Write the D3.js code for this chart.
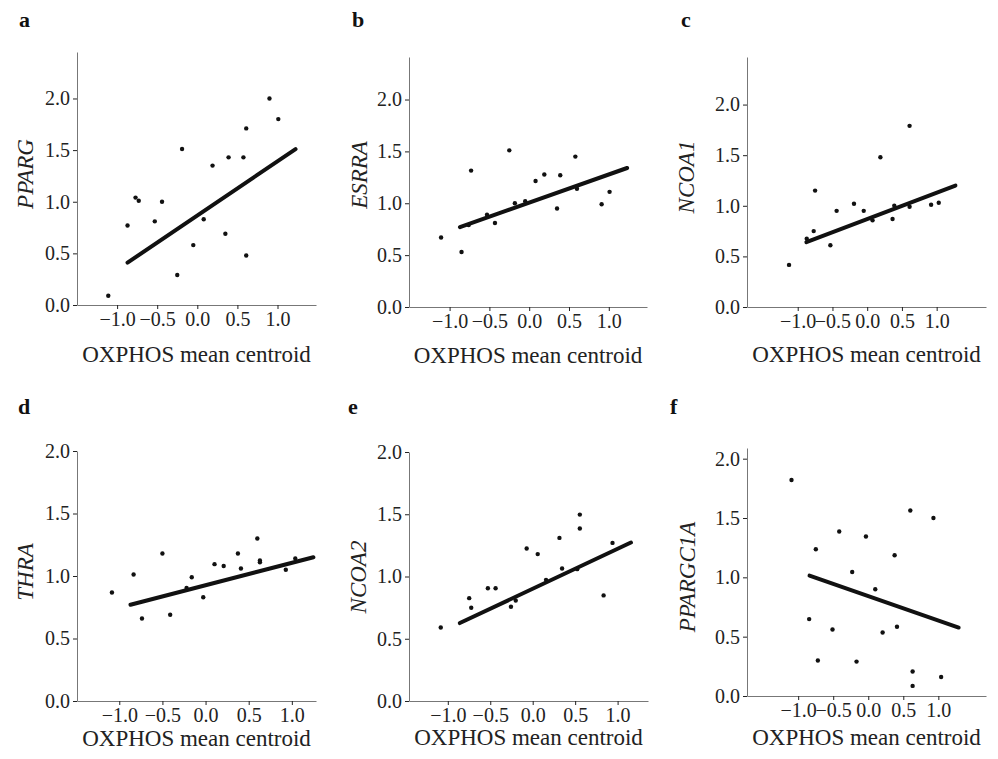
<!DOCTYPE html>
<html>
<head>
<meta charset="utf-8">
<script src="https://cdn.jsdelivr.net/npm/d3@7"></script>
<style>
  body { margin: 0; background: #fff; }
  svg { display: block; }
  svg text { font-family: "Liberation Serif", "Times New Roman", Times, "DejaVu Serif", serif; }
  .tick text { font-size: 20px; fill: #222; }
  .domain, .tick line { stroke: #777; }
</style>
</head>
<body>
<svg id="fig" width="998" height="759"></svg>
<script>
var panelLetters = ['a', 'b', 'c', 'd', 'e', 'f'];
var genes = ['PPARG', 'ESRRA', 'NCOA1', 'THRA', 'NCOA2', 'PPARGC1A'];

var xTicks = [-1.0, -0.5, 0.0, 0.5, 1.0];
var yTicks = [0.0, 0.5, 1.0, 1.5, 2.0];

// OXPHOS centroid (x) and expression (y)
var ppargX = [-1.11, -0.87, -0.77, -0.73, -0.53, -0.44, -0.25, -0.19, -0.05, 0.08, 0.19, 0.35, 0.39, 0.575, 0.61, 0.61, 0.90, 1.01];
var ppargY = [0.09, 0.77, 1.04, 1.01, 0.81, 1.00, 0.29, 1.51, 0.58, 0.83, 1.35, 0.69, 1.43, 1.43, 1.71, 0.48, 2.00, 1.80];

var esrraX = [-1.107, -0.85, -0.73, -0.76, -0.53, -0.43, -0.25, -0.18, -0.05, 0.08, 0.19, 0.35, 0.39, 0.58, 0.60, 0.91, 1.01];
var esrraY = [0.67, 0.53, 1.315, 0.79, 0.89, 0.81, 1.51, 1.00, 1.02, 1.215, 1.277, 0.95, 1.27, 1.45, 1.14, 0.99, 1.11];

var ncoa1X = [-1.125, -0.87, -0.77, -0.75, -0.53, -0.44, -0.19, -0.05, 0.077, 0.19, 0.365, 0.39, 0.61, 0.61, 0.92, 1.03];
var ncoa1Y = [0.416, 0.675, 0.75, 1.15, 0.61, 0.95, 1.02, 0.95, 0.856, 1.48, 0.87, 1.00, 1.79, 0.99, 1.01, 1.03];

var thraX = [-1.085, -0.834, -0.737, -0.50, -0.41, -0.22, -0.16, -0.027, 0.104, 0.21, 0.375, 0.41, 0.60, 0.63, 0.63, 0.93, 1.04];
var thraY = [0.868, 1.012, 0.66, 1.18, 0.69, 0.905, 0.99, 0.83, 1.095, 1.08, 1.18, 1.06, 1.30, 1.125, 1.11, 1.05, 1.14];

var ncoa2X = [-1.083, -0.748, -0.724, -0.528, -0.437, -0.256, -0.20, -0.071, 0.059, 0.157, 0.315, 0.346, 0.524, 0.555, 0.555, 0.835, 0.94];
var ncoa2Y = [0.59, 0.826, 0.749, 0.906, 0.906, 0.757, 0.807, 1.225, 1.18, 0.973, 1.31, 1.064, 1.059, 1.497, 1.385, 0.848, 1.27];

var ppargc1aX = [-1.095, -0.843, -0.748, -0.719, -0.51, -0.414, -0.229, -0.167, -0.033, 0.10, 0.205, 0.376, 0.41, 0.60, 0.633, 0.633, 0.93, 1.04];
var ppargc1aY = [1.82, 0.648, 1.237, 0.299, 0.56, 1.386, 1.045, 0.29, 1.344, 0.90, 0.535, 1.186, 0.583, 1.563, 0.206, 0.085, 1.50, 0.16];

// regression line ends [x0, y0, x1, y1]
var fitLines = [
    [-0.87, 0.41, 1.225, 1.51],
    [-0.87, 0.77, 1.23, 1.34],
    [-0.875, 0.64, 1.27, 1.20],
    [-0.87, 0.77, 1.25, 1.15],
    [-0.858, 0.626, 1.157, 1.273],
    [-0.838, 1.014, 1.29, 0.577]
];

var xSeries = [ppargX, esrraX, ncoa1X, thraX, ncoa2X, ppargc1aX];
var ySeries = [ppargY, esrraY, ncoa1Y, thraY, ncoa2Y, ppargc1aY];

// plot boxes in page pixels, and the scale extents of each panel
var layout = [
    { l: 77, r: 316, t: 52, b: 305, xd: [-1.5, 1.48], yd: [0, 2.45], lx: 25, ly: 174, px: 19, py: 27, ty: 362 },
    { l: 409, r: 647, t: 57, b: 307, xd: [-1.51, 1.48], yd: [0, 2.41], lx: 359, ly: 175, px: 352, py: 27, ty: 363 },
    { l: 747, r: 986, t: 57, b: 307, xd: [-1.73, 1.71], yd: [0, 2.47], lx: 686, ly: 177, px: 681, py: 27, ty: 362 },
    { l: 77, r: 316, t: 451, b: 701, xd: [-1.49, 1.28], yd: [0, 2.0], lx: 25, ly: 572, px: 18, py: 414, ty: 746 },
    { l: 409, r: 648, t: 452, b: 701, xd: [-1.457, 1.358], yd: [0, 2.0], lx: 358, ly: 577, px: 348, py: 414, ty: 745 },
    { l: 747, r: 986, t: 448, b: 696, xd: [-1.73, 1.68], yd: [0, 2.09], lx: 687, ly: 577, px: 670, py: 414, ty: 745 }
];

var svg = d3.select('#fig');
var fmt = d3.format('.1f');

layout.forEach(function(p, i) {

    var x = d3.scaleLinear().domain(p.xd).range([p.l, p.r]);
    var y = d3.scaleLinear().domain(p.yd).range([p.b, p.t]);
    var g = svg.append('g');

    g.append('g')
        .attr('transform', 'translate(0,' + p.b + ')')
        .call(d3.axisBottom(x).tickValues(xTicks).tickFormat(fmt).tickSize(4).tickSizeOuter(0).tickPadding(3));

    g.append('g')
        .attr('transform', 'translate(' + p.l + ',0)')
        .call(d3.axisLeft(y).tickValues(yTicks).tickFormat(fmt).tickSize(4).tickSizeOuter(0).tickPadding(3));

    g.selectAll('g.tick text').attr('font-family', null);
    g.selectAll('.tick line').style('stroke', '#222');

    var pts = d3.zip(xSeries[i], ySeries[i]);
    g.selectAll('circle')
        .data(pts)
        .enter()
        .append('circle')
        .attr('cx', function(d) { return x(d[0]); })
        .attr('cy', function(d) { return y(d[1]); })
        .attr('r', 2.2)
        .attr('fill', '#111');

    var f = fitLines[i];
    g.append('line')
        .attr('x1', x(f[0])).attr('y1', y(f[1]))
        .attr('x2', x(f[2])).attr('y2', y(f[3]))
        .attr('stroke', '#111')
        .attr('stroke-width', 4)
        .attr('stroke-linecap', 'round');

    g.append('text')
        .attr('x', p.px).attr('y', p.py)
        .style('font-weight', 'bold')
        .style('font-size', '22px')
        .attr('fill', '#111')
        .text(panelLetters[i]);

    g.append('text')
        .attr('transform', 'translate(' + p.lx + ',' + p.ly + ') rotate(-90)')
        .attr('text-anchor', 'middle')
        .attr('dominant-baseline', 'central')
        .style('font-style', 'italic')
        .style('font-size', '23px')
        .attr('fill', '#222')
        .text(genes[i]);

    g.append('text')
        .attr('x', (p.l + p.r) / 2).attr('y', p.ty)
        .attr('text-anchor', 'middle')
        .style('font-size', '23px')
        .attr('fill', '#222')
        .text('OXPHOS mean centroid');
});
</script>
</body>
</html>
